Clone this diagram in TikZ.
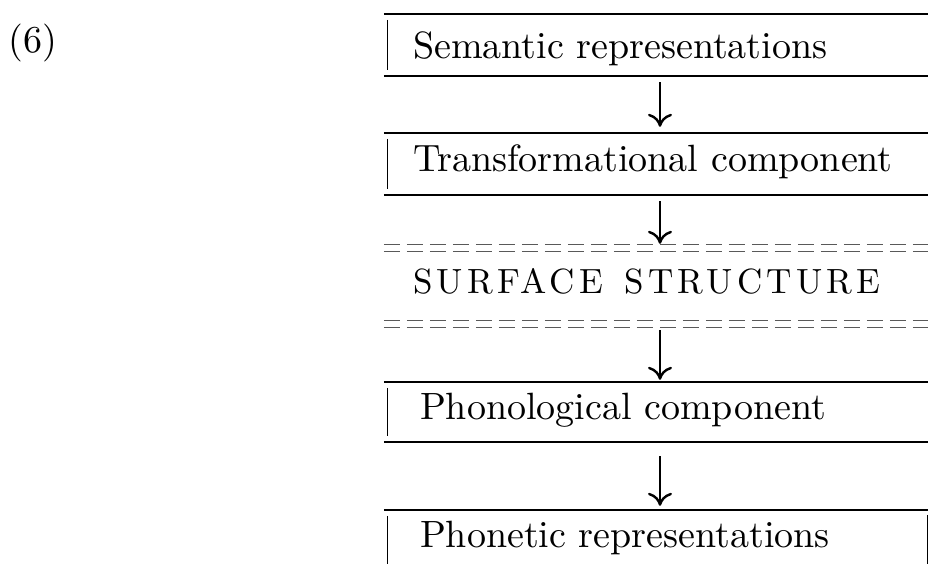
\documentclass[tikz,border=0pt]{standalone}
\usepackage{fontspec}
\newfontfamily\compfont{lmroman10-regular.otf}
\newfontfamily\surffont[LetterSpace=12]{lmroman10-regular.otf}
\usetikzlibrary{arrows.meta}

\tikzset{
  comp/.style={minimum height=62pt, inner ysep=0pt, inner xsep=29pt, text width=494pt,
    align=left, text height=26pt, text depth=12pt, font=\compfont\fontsize{38}{44}\selectfont},
  rule/.style={line width=1.8pt},
  bar/.style={line width=1.2pt},
  dashrule/.style={line width=1pt, black!65, dash pattern=on 16pt off 7pt},
  flow/.style={line width=1.8pt, -{Computer Modern Rightarrow[length=13pt,width=24pt,line width=2.4pt]}}
}

\begin{document}
\begin{tikzpicture}[x=1pt,y=-1pt]

  \useasboundingbox (0,0) rectangle (928,563);

  \node[anchor=base west, font=\compfont\fontsize{38}{44}\selectfont] (num) at (5,52) {(6)};

  \node[comp, text height=35pt, text depth=8pt] (sem) at (660,45) {Semantic representations};
  \node[comp] (trans) at (660,164) {Transformational component};
  \node[comp, minimum height=82pt, font=\surffont\fontsize{35}{42}\selectfont] (surf) at (660,286) {SURFACE\ \hspace{10pt}STRUCTURE};
  \node[comp, minimum height=60pt, inner xsep=36pt, text width=480pt] (phon) at (660,412) {Phonological component};
  \node[comp, minimum height=60pt, inner xsep=36pt, text width=480pt] (phonet) at (660,540) {Phonetic representations};

	\foreach \n in {sem,trans,phon,phonet}{% rules above and below, bar on the left
      \draw[rule] (\n.north west) -- (\n.north east);
      \draw[rule] (\n.south west) -- (\n.south east);
      \draw[bar] ([shift={(4,6)}]\n.north west) -- ([shift={(4,-6)}]\n.south west);}

  \draw[bar] ([shift={(-9,5)}]phonet.north east) -- ([shift={(-9,0)}]phonet.south east);

	\foreach \s in {0,7}{% double dashed rules round the surface structure
      \draw[dashrule] ([shift={(0,\s)}]surf.north west) -- ([shift={(0,\s)}]surf.north east);
      \draw[dashrule] ([shift={(0,-\s)}]surf.south west) -- ([shift={(0,-\s)}]surf.south east);}

  \draw[flow, shorten <=6pt, shorten >=6pt] (sem.south) -- (trans.north);
  \draw[flow, shorten <=6pt, shorten >=1pt] (trans.south) -- (surf.north);
  \draw[flow, shorten <=3pt, shorten >=2pt] (surf.south) -- (phon.north);
  \draw[flow, shorten <=14pt, shorten >=4pt] (phon.south) -- (phonet.north);

\end{tikzpicture}
\end{document}
